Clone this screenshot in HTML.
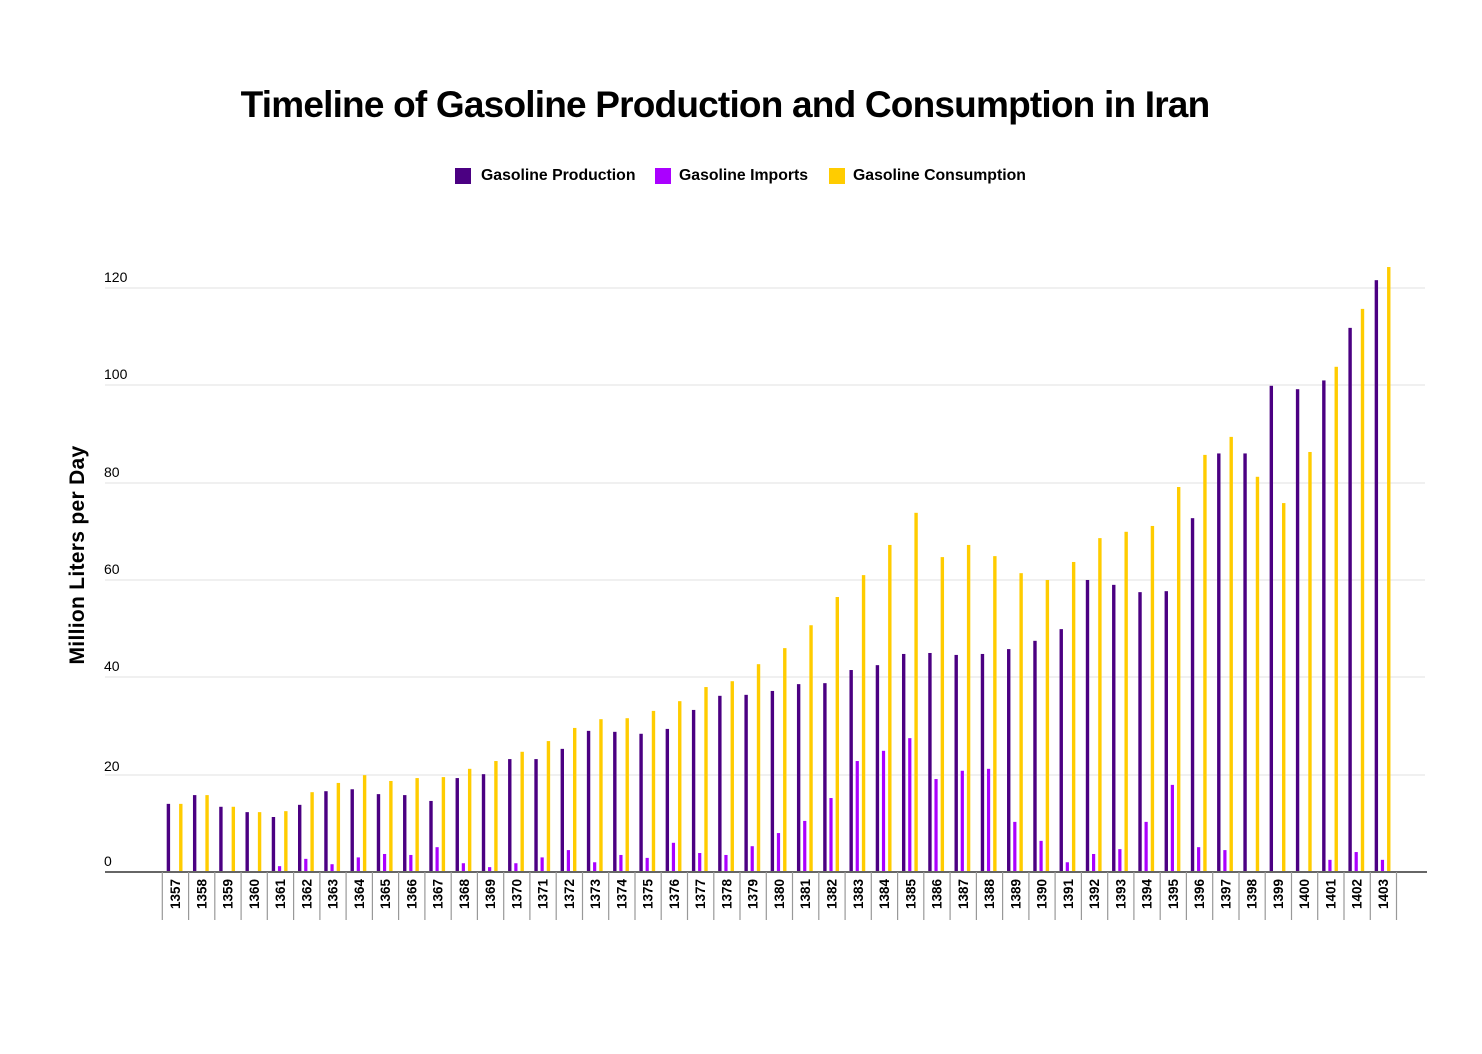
<!DOCTYPE html>
<html><head><meta charset="utf-8"><style>
html,body{margin:0;padding:0;background:#fff;}
svg{display:block;font-family:"Liberation Sans",sans-serif;}
</style></head><body>
<svg width="1482" height="1054" viewBox="0 0 1482 1054" xmlns="http://www.w3.org/2000/svg">
<rect width="1482" height="1054" fill="#fff"/>
<text x="725" y="117" text-anchor="middle" font-size="37" font-weight="bold" fill="#000" letter-spacing="-0.8">Timeline of Gasoline Production and Consumption in Iran</text>
<rect x="455" y="168" width="16" height="16" fill="#4b0082"/>
<text x="481" y="180" font-size="15.8" font-weight="bold">Gasoline Production</text>
<rect x="655" y="168" width="16" height="16" fill="#aa00ff"/>
<text x="679" y="180" font-size="15.8" font-weight="bold">Gasoline Imports</text>
<rect x="829" y="168" width="16" height="16" fill="#ffcc00"/>
<text x="853" y="180" font-size="15.8" font-weight="bold">Gasoline Consumption</text>
<g stroke="#ececec" stroke-width="1.5">
<line x1="105" x2="1425" y1="288" y2="288"/><line x1="105" x2="1425" y1="385" y2="385"/>
<line x1="105" x2="1425" y1="483" y2="483"/><line x1="105" x2="1425" y1="580" y2="580"/>
<line x1="105" x2="1425" y1="677" y2="677"/><line x1="105" x2="1425" y1="775" y2="775"/>
</g>
<g font-size="14" fill="#000">
<text x="104" y="282">120</text><text x="104" y="379">100</text><text x="104" y="477">80</text>
<text x="104" y="574">60</text><text x="104" y="771">20</text><text x="104" y="671">40</text><text x="104" y="866">0</text>
</g>
<text transform="translate(84,555) rotate(-90)" text-anchor="middle" font-size="21" font-weight="bold" letter-spacing="0.3">Million Liters per Day</text>
<g fill="#4b0082">
<g transform="translate(162.3,872) scale(1,-4.867)">
<rect x="4.4" y="0" width="3.4" height="14"/><rect x="30.66" width="3.4" height="15.8"/><rect x="56.92" width="3.4" height="13.4"/><rect x="83.18" width="3.4" height="12.3"/><rect x="109.44" width="3.4" height="11.3"/><rect x="135.7" width="3.4" height="13.8"/><rect x="161.96" width="3.4" height="16.6"/><rect x="188.22" width="3.4" height="17"/><rect x="214.48" width="3.4" height="16"/><rect x="240.74" width="3.4" height="15.8"/><rect x="267" width="3.4" height="14.6"/><rect x="293.26" width="3.4" height="19.3"/><rect x="319.52" width="3.4" height="20.1"/><rect x="345.78" width="3.4" height="23.2"/><rect x="372.04" width="3.4" height="23.2"/><rect x="398.3" width="3.4" height="25.3"/><rect x="424.56" width="3.4" height="29"/><rect x="450.82" width="3.4" height="28.8"/><rect x="477.08" width="3.4" height="28.4"/><rect x="503.34" width="3.4" height="29.4"/><rect x="529.6" width="3.4" height="33.3"/><rect x="555.86" width="3.4" height="36.2"/><rect x="582.12" width="3.4" height="36.4"/><rect x="608.38" width="3.4" height="37.2"/><rect x="634.64" width="3.4" height="38.6"/><rect x="660.9" width="3.4" height="38.8"/><rect x="687.16" width="3.4" height="41.5"/><rect x="713.42" width="3.4" height="42.5"/><rect x="739.68" width="3.4" height="44.8"/><rect x="765.94" width="3.4" height="45"/><rect x="792.2" width="3.4" height="44.6"/><rect x="818.46" width="3.4" height="44.8"/><rect x="844.72" width="3.4" height="45.8"/><rect x="870.98" width="3.4" height="47.5"/><rect x="897.24" width="3.4" height="49.9"/><rect x="923.5" width="3.4" height="60"/><rect x="949.76" width="3.4" height="59"/><rect x="976.02" width="3.4" height="57.5"/><rect x="1002.28" width="3.4" height="57.7"/><rect x="1028.54" width="3.4" height="72.7"/><rect x="1054.8" width="3.4" height="86"/><rect x="1081.06" width="3.4" height="86"/><rect x="1107.32" width="3.4" height="99.9"/><rect x="1133.58" width="3.4" height="99.2"/><rect x="1159.84" width="3.4" height="101"/><rect x="1186.1" width="3.4" height="111.8"/><rect x="1212.36" width="3.4" height="121.6"/>
</g></g>
<g fill="#aa00ff">
<g transform="translate(168.5,872) scale(1,-4.867)">
<rect x="109.44" width="3.2" height="1.2"/><rect x="135.7" width="3.2" height="2.7"/><rect x="161.96" width="3.2" height="1.6"/><rect x="188.22" width="3.2" height="3"/><rect x="214.48" width="3.2" height="3.7"/><rect x="240.74" width="3.2" height="3.5"/><rect x="267" width="3.2" height="5.1"/><rect x="293.26" width="3.2" height="1.8"/><rect x="319.52" width="3.2" height="1"/><rect x="345.78" width="3.2" height="1.8"/><rect x="372.04" width="3.2" height="3"/><rect x="398.3" width="3.2" height="4.5"/><rect x="424.56" width="3.2" height="2"/><rect x="450.82" width="3.2" height="3.5"/><rect x="477.08" width="3.2" height="2.9"/><rect x="503.34" width="3.2" height="6"/><rect x="529.6" width="3.2" height="3.9"/><rect x="555.86" width="3.2" height="3.5"/><rect x="582.12" width="3.2" height="5.3"/><rect x="608.38" width="3.2" height="8"/><rect x="634.64" width="3.2" height="10.5"/><rect x="660.9" width="3.2" height="15.2"/><rect x="687.16" width="3.2" height="22.8"/><rect x="713.42" width="3.2" height="24.9"/><rect x="739.68" width="3.2" height="27.5"/><rect x="765.94" width="3.2" height="19.1"/><rect x="792.2" width="3.2" height="20.8"/><rect x="818.46" width="3.2" height="21.2"/><rect x="844.72" width="3.2" height="10.3"/><rect x="870.98" width="3.2" height="6.4"/><rect x="897.24" width="3.2" height="2"/><rect x="923.5" width="3.2" height="3.7"/><rect x="949.76" width="3.2" height="4.7"/><rect x="976.02" width="3.2" height="10.3"/><rect x="1002.28" width="3.2" height="17.9"/><rect x="1028.54" width="3.2" height="5.1"/><rect x="1054.8" width="3.2" height="4.5"/><rect x="1159.84" width="3.2" height="2.5"/><rect x="1186.1" width="3.2" height="4.1"/><rect x="1212.36" width="3.2" height="2.5"/>
</g></g>
<g fill="#ffcc00">
<g transform="translate(174.7,872) scale(1,-4.867)">
<rect x="4.4" width="3.4" height="14"/><rect x="30.66" width="3.4" height="15.8"/><rect x="56.92" width="3.4" height="13.4"/><rect x="83.18" width="3.4" height="12.3"/><rect x="109.44" width="3.4" height="12.5"/><rect x="135.7" width="3.4" height="16.4"/><rect x="161.96" width="3.4" height="18.3"/><rect x="188.22" width="3.4" height="19.9"/><rect x="214.48" width="3.4" height="18.7"/><rect x="240.74" width="3.4" height="19.3"/><rect x="267" width="3.4" height="19.5"/><rect x="293.26" width="3.4" height="21.2"/><rect x="319.52" width="3.4" height="22.8"/><rect x="345.78" width="3.4" height="24.7"/><rect x="372.04" width="3.4" height="26.9"/><rect x="398.3" width="3.4" height="29.6"/><rect x="424.56" width="3.4" height="31.4"/><rect x="450.82" width="3.4" height="31.6"/><rect x="477.08" width="3.4" height="33.1"/><rect x="503.34" width="3.4" height="35.1"/><rect x="529.6" width="3.4" height="38"/><rect x="555.86" width="3.4" height="39.2"/><rect x="582.12" width="3.4" height="42.7"/><rect x="608.38" width="3.4" height="46"/><rect x="634.64" width="3.4" height="50.7"/><rect x="660.9" width="3.4" height="56.5"/><rect x="687.16" width="3.4" height="61"/><rect x="713.42" width="3.4" height="67.2"/><rect x="739.68" width="3.4" height="73.8"/><rect x="765.94" width="3.4" height="64.7"/><rect x="792.2" width="3.4" height="67.2"/><rect x="818.46" width="3.4" height="64.9"/><rect x="844.72" width="3.4" height="61.4"/><rect x="870.98" width="3.4" height="60"/><rect x="897.24" width="3.4" height="63.7"/><rect x="923.5" width="3.4" height="68.6"/><rect x="949.76" width="3.4" height="69.9"/><rect x="976.02" width="3.4" height="71.1"/><rect x="1002.28" width="3.4" height="79.1"/><rect x="1028.54" width="3.4" height="85.7"/><rect x="1054.8" width="3.4" height="89.4"/><rect x="1081.06" width="3.4" height="81.2"/><rect x="1107.32" width="3.4" height="75.8"/><rect x="1133.58" width="3.4" height="86.3"/><rect x="1159.84" width="3.4" height="103.8"/><rect x="1186.1" width="3.4" height="115.7"/><rect x="1212.36" width="3.4" height="124.3"/>
</g></g>
<line x1="105" x2="1427" y1="872" y2="872" stroke="#666" stroke-width="2"/>
<g stroke="#999" stroke-width="1.2">
<line x1="162.3" x2="162.3" y1="872" y2="920"/><line x1="188.6" x2="188.6" y1="872" y2="920"/><line x1="214.8" x2="214.8" y1="872" y2="920"/><line x1="241.1" x2="241.1" y1="872" y2="920"/><line x1="267.3" x2="267.3" y1="872" y2="920"/><line x1="293.6" x2="293.6" y1="872" y2="920"/><line x1="319.9" x2="319.9" y1="872" y2="920"/><line x1="346.1" x2="346.1" y1="872" y2="920"/><line x1="372.4" x2="372.4" y1="872" y2="920"/><line x1="398.6" x2="398.6" y1="872" y2="920"/><line x1="424.9" x2="424.9" y1="872" y2="920"/><line x1="451.2" x2="451.2" y1="872" y2="920"/><line x1="477.4" x2="477.4" y1="872" y2="920"/><line x1="503.7" x2="503.7" y1="872" y2="920"/><line x1="529.9" x2="529.9" y1="872" y2="920"/><line x1="556.2" x2="556.2" y1="872" y2="920"/><line x1="582.5" x2="582.5" y1="872" y2="920"/><line x1="608.7" x2="608.7" y1="872" y2="920"/><line x1="635" x2="635" y1="872" y2="920"/><line x1="661.2" x2="661.2" y1="872" y2="920"/><line x1="687.5" x2="687.5" y1="872" y2="920"/><line x1="713.8" x2="713.8" y1="872" y2="920"/><line x1="740" x2="740" y1="872" y2="920"/><line x1="766.3" x2="766.3" y1="872" y2="920"/><line x1="792.5" x2="792.5" y1="872" y2="920"/><line x1="818.8" x2="818.8" y1="872" y2="920"/><line x1="845.1" x2="845.1" y1="872" y2="920"/><line x1="871.3" x2="871.3" y1="872" y2="920"/><line x1="897.6" x2="897.6" y1="872" y2="920"/><line x1="923.8" x2="923.8" y1="872" y2="920"/><line x1="950.1" x2="950.1" y1="872" y2="920"/><line x1="976.4" x2="976.4" y1="872" y2="920"/><line x1="1002.6" x2="1002.6" y1="872" y2="920"/><line x1="1028.9" x2="1028.9" y1="872" y2="920"/><line x1="1055.1" x2="1055.1" y1="872" y2="920"/><line x1="1081.4" x2="1081.4" y1="872" y2="920"/><line x1="1107.7" x2="1107.7" y1="872" y2="920"/><line x1="1133.9" x2="1133.9" y1="872" y2="920"/><line x1="1160.2" x2="1160.2" y1="872" y2="920"/><line x1="1186.4" x2="1186.4" y1="872" y2="920"/><line x1="1212.7" x2="1212.7" y1="872" y2="920"/><line x1="1239" x2="1239" y1="872" y2="920"/><line x1="1265.2" x2="1265.2" y1="872" y2="920"/><line x1="1291.5" x2="1291.5" y1="872" y2="920"/><line x1="1317.7" x2="1317.7" y1="872" y2="920"/><line x1="1344" x2="1344" y1="872" y2="920"/><line x1="1370.3" x2="1370.3" y1="872" y2="920"/><line x1="1396.5" x2="1396.5" y1="872" y2="920"/>
</g>
<g font-size="13.5" font-weight="bold" text-anchor="end">
<text transform="translate(180,879) rotate(-90)">1357</text><text transform="translate(206.3,879) rotate(-90)">1358</text><text transform="translate(232.5,879) rotate(-90)">1359</text><text transform="translate(258.8,879) rotate(-90)">1360</text><text transform="translate(285,879) rotate(-90)">1361</text><text transform="translate(311.3,879) rotate(-90)">1362</text><text transform="translate(337.6,879) rotate(-90)">1363</text><text transform="translate(363.8,879) rotate(-90)">1364</text><text transform="translate(390.1,879) rotate(-90)">1365</text><text transform="translate(416.3,879) rotate(-90)">1366</text><text transform="translate(442.6,879) rotate(-90)">1367</text><text transform="translate(468.9,879) rotate(-90)">1368</text><text transform="translate(495.1,879) rotate(-90)">1369</text><text transform="translate(521.4,879) rotate(-90)">1370</text><text transform="translate(547.6,879) rotate(-90)">1371</text><text transform="translate(573.9,879) rotate(-90)">1372</text><text transform="translate(600.2,879) rotate(-90)">1373</text><text transform="translate(626.4,879) rotate(-90)">1374</text><text transform="translate(652.7,879) rotate(-90)">1375</text><text transform="translate(678.9,879) rotate(-90)">1376</text><text transform="translate(705.2,879) rotate(-90)">1377</text><text transform="translate(731.5,879) rotate(-90)">1378</text><text transform="translate(757.7,879) rotate(-90)">1379</text><text transform="translate(784,879) rotate(-90)">1380</text><text transform="translate(810.2,879) rotate(-90)">1381</text><text transform="translate(836.5,879) rotate(-90)">1382</text><text transform="translate(862.8,879) rotate(-90)">1383</text><text transform="translate(889,879) rotate(-90)">1384</text><text transform="translate(915.3,879) rotate(-90)">1385</text><text transform="translate(941.5,879) rotate(-90)">1386</text><text transform="translate(967.8,879) rotate(-90)">1387</text><text transform="translate(994.1,879) rotate(-90)">1388</text><text transform="translate(1020.3,879) rotate(-90)">1389</text><text transform="translate(1046.6,879) rotate(-90)">1390</text><text transform="translate(1072.8,879) rotate(-90)">1391</text><text transform="translate(1099.1,879) rotate(-90)">1392</text><text transform="translate(1125.4,879) rotate(-90)">1393</text><text transform="translate(1151.6,879) rotate(-90)">1394</text><text transform="translate(1177.9,879) rotate(-90)">1395</text><text transform="translate(1204.1,879) rotate(-90)">1396</text><text transform="translate(1230.4,879) rotate(-90)">1397</text><text transform="translate(1256.7,879) rotate(-90)">1398</text><text transform="translate(1282.9,879) rotate(-90)">1399</text><text transform="translate(1309.2,879) rotate(-90)">1400</text><text transform="translate(1335.4,879) rotate(-90)">1401</text><text transform="translate(1361.7,879) rotate(-90)">1402</text><text transform="translate(1388,879) rotate(-90)">1403</text>
</g>
</svg>
</body></html>
